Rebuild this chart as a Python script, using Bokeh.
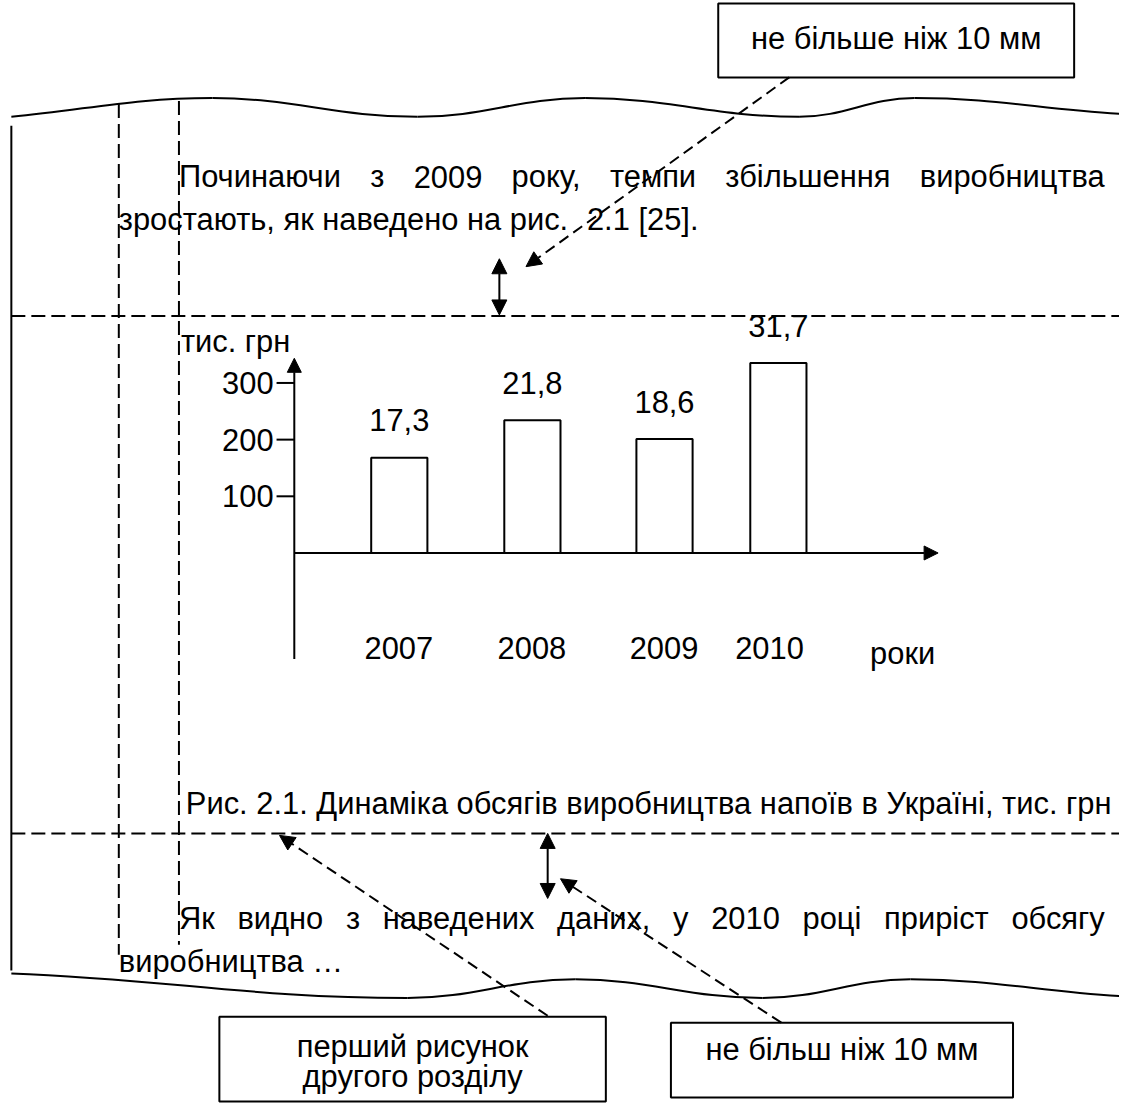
import os
import subprocess
from bokeh.plotting import figure
from bokeh.models import Range1d, Arrow, NormalHead
from bokeh.core.properties import value
from bokeh.embed import file_html
from bokeh.resources import INLINE

# ---------------- data ----------------
years = ["2007", "2008", "2009", "2010"]
production = [168, 234, 201, 335]          # тис. грн (bar heights)
growth_labels = ["17,3", "21,8", "18,6", "31,7"]
y_ticks = [100, 200, 300]
y_tick_labels = ["100", "200", "300"]
y_unit = "тис. грн"
x_unit = "роки"

para1 = ["Починаючи з 2009 року, темпи збільшення виробництва",
         "зростають, як наведено на рис.", "2.1 [25]."]
caption = "Рис. 2.1. Динаміка обсягів виробництва напоїв в Україні, тис. грн"
para2 = ["Як видно з наведених даних, у 2010 році приріст обсягу",
         "виробництва …"]
box_top = "не більше ніж 10 мм"
box_left = ["перший рисунок", "другого розділу"]
box_right = "не більш ніж 10 мм"

# ---------------- layout ----------------
W, H = 1119, 1103            # figure size in screen px
RW, RH = 1135, 1119          # drawing coordinates (reference pixels)
S = RW / W                   # data units per screen px
FONT = "Liberation Sans"
FS_REF = 31.3
FSPX = FS_REF / S
MID = 0.35 * FS_REF          # baseline -> em-middle distance
bar_centers = [404.5, 539.5, 673.5, 789]
bar_width = 57
year_label_x = [404, 539, 673, 780]
zero_y = 560.5          # reference y of value 0
px_per_unit = 0.575

p = figure(width=W, height=H, x_range=Range1d(0, RW), y_range=Range1d(RH, 0),
           x_axis_type=None, y_axis_type=None, toolbar_location=None,
           output_backend="svg", min_border=0, outline_line_color=None,
           background_fill_color="white", border_fill_color="white")
p.extra_y_ranges = {"val": Range1d(start=(zero_y - RH) / px_per_unit,
                                   end=(zero_y - 0) / px_per_unit)}

tf = value(FONT)
FSS = f"{FSPX:.2f}px"
LW = 2


def dline(xs, ys, dash="14 6"):
    p.line(xs, ys, line_color="black", line_width=LW, line_dash=dash)


# ---- wavy page edges (bezier segments between extremes) ----
def wave(pts, c_first, c_last):
    x0, y0, x1, y1, cx0, cy0, cx1, cy1 = [], [], [], [], [], [], [], []
    for i in range(len(pts) - 1):
        (ax, ay), (bx, by) = pts[i], pts[i + 1]
        d = bx - ax
        x0.append(ax); y0.append(ay); x1.append(bx); y1.append(by)
        cx0.append(ax + 0.4 * d); cy0.append(ay)
        cx1.append(bx - 0.4 * d); cy1.append(by)
    cy0[0] = c_first
    cy1[-1] = c_last
    p.bezier(x0=x0, y0=y0, x1=x1, y1=y1, cx0=cx0, cy0=cy0, cx1=cx1, cy1=cy1,
             line_color="black", line_width=LW)


wave([(11, 118), (215, 99), (423, 118), (593, 99), (810, 118), (927, 99), (1135, 115)], 110, 110)
wave([(11, 987), (413, 1012), (583, 993), (773, 1012), (923, 993), (1135, 1010)], 993, 1005)

# left page edge
p.line([11, 11], [127, 984], line_color="black", line_width=LW)

# dashed margin guides
dline([120, 120], [105, 968])
dline([181, 181], [102, 958])
dline([11, 1135], [320, 320])
dline([11, 1135], [845, 845])


# ---- text helpers ----
def measure_factory():
    path = None
    try:
        out = subprocess.run(["fc-match", "-f", "%{file}", FONT],
                             capture_output=True, text=True, timeout=5).stdout.strip()
        if out and os.path.exists(out):
            path = out
    except Exception:
        path = None
    if path:
        try:
            from PIL import ImageFont
            f = ImageFont.truetype(path, 100)
            return lambda s: f.getlength(s) / 100 * FS_REF
        except Exception:
            pass
    return lambda s: len(s) * 0.55 * FS_REF


measure = measure_factory()


def text(x, y_base, s, align="left"):
    p.text(x=[x], y=[y_base - MID], text=[s], text_font=tf, text_font_size=FSS,
           text_align=align, text_baseline="middle", text_color="black")


def words_at(words, xs, y_base):
    p.text(x=xs, y=[y_base - MID] * len(words), text=words, text_font=tf,
           text_font_size=FSS, text_align="left", text_baseline="middle",
           text_color="black")


def justified(line, x0, x1, y_base):
    words = line.split(" ")
    widths = [measure(w) for w in words]
    gap = (x1 - x0 - sum(widths)) / (len(words) - 1)
    x = x0
    xs = []
    for w in widths:
        xs.append(x)
        x += w + gap
    words_at(words, xs, y_base)


justified(para1[0], 181, 1120, 190)
text(120, 233, para1[1])
text(120 + measure(para1[1]) + 2.2 * measure(" "), 233, para1[2])
text(188, 826, caption)
justified(para2[0], 181, 1120, 942)
text(120, 986, para2[1])

# ---- boxes ----
p.quad(left=[728, 222, 680], right=[1089, 614, 1027], top=[3, 1031, 1037],
       bottom=[78, 1117, 1113], fill_color=None, line_color="black", line_width=LW)
text(908.5, 49, box_top, align="center")
text(418, 1072, box_left[0], align="center")
text(418, 1103, box_left[1], align="center")
text(853.5, 1075, box_right, align="center")


# ---- arrows ----
def head(sz=15):
    return NormalHead(size=sz, fill_color="black", line_color="black", line_width=1)


def arrow(xs, ys, xe, ye, dash="solid", both=False, sz=15):
    a = Arrow(x_start=xs, y_start=ys, x_end=xe, y_end=ye, end=head(sz),
              start=head(sz) if both else None,
              line_color="black", line_width=LW, line_dash=dash)
    p.add_layout(a)


arrow(506, 262, 506, 319, both=True)
arrow(555, 845, 555, 911, both=True)
arrow(800, 78, 533, 270, dash="11 6")
arrow(555, 1030, 283, 847, dash="11 6")
arrow(792, 1037, 568, 891, dash="11 6")

# ---- chart ----
arrow(298, 668, 298, 363, sz=14)
arrow(298, zero_y, 951, zero_y, sz=14)

p.vbar(x=bar_centers, width=bar_width, bottom=0, top=production, y_range_name="val",
       fill_color="white", line_color="black", line_width=LW)
p.segment(x0=[280] * len(y_ticks), x1=[298] * len(y_ticks), y0=y_ticks, y1=y_ticks,
          y_range_name="val", line_color="black", line_width=LW)
p.text(x=[277] * len(y_ticks), y=y_ticks, text=y_tick_labels, y_range_name="val",
       text_font=tf, text_font_size=FSS, text_align="right",
       text_baseline="middle", text_color="black")
p.text(x=bar_centers, y=production, text=growth_labels, y_range_name="val",
       y_offset=-(27 + MID) / S, text_font=tf, text_font_size=FSS, text_align="center",
       text_baseline="middle", text_color="black")
p.text(x=year_label_x, y=[668 - MID] * len(years), text=years, text_font=tf,
       text_font_size=FSS, text_align="center", text_baseline="middle",
       text_color="black")
text(915, 673, x_unit, align="center")
text(183, 357, y_unit)

open("out.html", "w").write(file_html(p, INLINE))
